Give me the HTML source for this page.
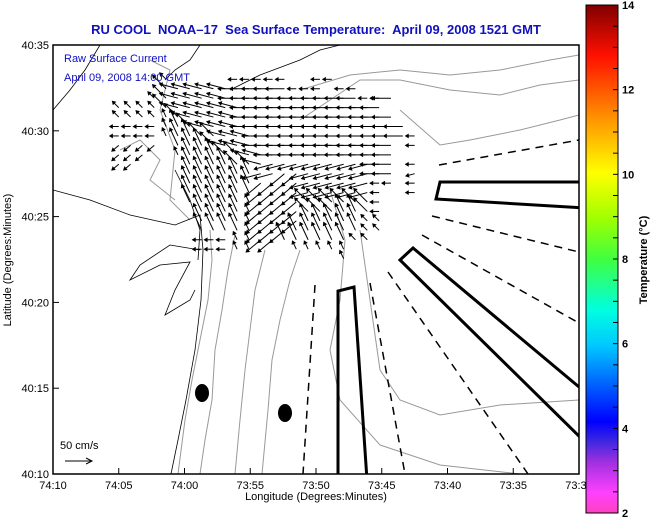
<!DOCTYPE html>
<html><head><meta charset="utf-8"><style>
html,body{margin:0;padding:0;background:#fff;width:651px;height:519px;overflow:hidden}
svg{display:block;font-family:"Liberation Sans",sans-serif}
</style></head><body>
<svg id="chart" width="651" height="519" viewBox="0 0 651 519">
<defs>
<linearGradient id="cb" x1="0" y1="1" x2="0" y2="0">
<stop offset="0" stop-color="#ff40c0"/><stop offset="0.04" stop-color="#ff40ff"/>
<stop offset="0.1" stop-color="#a030e0"/><stop offset="0.14" stop-color="#4028e0"/>
<stop offset="0.18" stop-color="#0000ff"/><stop offset="0.33" stop-color="#00c8ff"/>
<stop offset="0.4" stop-color="#00ffe0"/><stop offset="0.5" stop-color="#40ff40"/>
<stop offset="0.58" stop-color="#a0ff00"/><stop offset="0.67" stop-color="#ffff00"/>
<stop offset="0.78" stop-color="#ff9000"/><stop offset="0.9" stop-color="#ff1000"/>
<stop offset="1" stop-color="#800000"/>
</linearGradient>
<clipPath id="pc"><rect x="53" y="45" width="526" height="429"/></clipPath>
</defs>
<text x="316" y="34" text-anchor="middle" font-size="13" font-weight="bold" fill="#1010c0" xml:space="preserve" style="white-space:pre">RU COOL  NOAA–17  Sea Surface Temperature:  April 09, 2008 1521 GMT</text>
<g id="map" clip-path="url(#pc)">
<g fill="none" stroke="#999" stroke-width="1">
<polyline points="210,230 212,260 208,300 200,340 192,380 185,420 178,474"/>
<polyline points="235,235 228,270 222,310 215,350 212,400 205,440 200,474"/>
<polyline points="265,250 255,290 250,330 245,370 240,420 235,474"/>
<polyline points="300,250 290,280 280,320 272,360 268,410 262,474"/>
<polyline points="330,190 345,240 340,300 330,350 340,400 380,445 440,465 520,474"/>
<polyline points="360,230 370,300 380,370 400,400 440,415 500,405 579,400"/>
<polyline points="300,90 350,75 400,70 450,75 500,70 550,60 579,55"/>
<polyline points="300,120 360,80 400,80 450,90 500,95 540,85 579,80"/>
<polyline points="400,110 440,145 470,140 520,130 560,120 579,115"/>
<polyline points="150,60 170,70 160,110 175,150 170,200 190,220"/>
<polyline points="120,150 140,140 160,160 150,180 175,200"/>
</g>
<g fill="none" stroke="#000" stroke-width="0.8">
<polyline points="53,110 70,90 85,70 100,45"/>
<polyline points="53,190 90,200 130,215 175,225 200,215 203,250 201,300 195,350 186,400 178,440 171,474"/>
<polyline points="200,250 170,245 140,265 130,280 160,265 190,262 175,290 165,315 190,300 195,290"/>
<polyline points="200,45 190,60 175,70 165,80"/>
<polyline points="230,90 260,75 300,60 320,50 340,45"/>
<polyline points="175,170 190,200 200,230 198,260"/>
</g>
<g stroke="#000" stroke-width="3" fill="none">
<polyline points="338,480 338,291 354,287 367,480"/>
<polyline points="585,182 440,182 436,199 585,208"/>
<polyline points="585,392 413,248 400,260 585,442"/>
</g>
<g stroke="#000" stroke-width="1.5" stroke-dasharray="8,6" fill="none">
<line x1="439" y1="165" x2="579" y2="140"/><line x1="432" y1="216" x2="579" y2="252"/>
<line x1="422" y1="235" x2="579" y2="323"/><line x1="388" y1="272" x2="528" y2="474"/>
<line x1="370" y1="283" x2="405" y2="474"/><line x1="315" y1="285" x2="303" y2="474"/>
</g>
<ellipse cx="202" cy="393" rx="7" ry="9" fill="#000"/>
<ellipse cx="285" cy="413" rx="7" ry="9" fill="#000"/>
<g id="arrows" stroke="#000" stroke-width="1" fill="#000"></g>
</g>
<rect x="53" y="45" width="526" height="429" fill="none" stroke="#000" stroke-width="1.5"/>
<text x="64" y="62" font-size="11" fill="#1010c0">Raw Surface Current</text>
<text x="64" y="81" font-size="11" fill="#1010c0">April 09, 2008 14:00 GMT</text>
<text x="60" y="449" font-size="11" fill="#000">50 cm/s</text>
<g><line x1="65" y1="461" x2="92" y2="461" stroke="#000"/><polyline points="86,458 92,461 86,464" fill="none" stroke="#000"/></g>
<g id="xaxis"></g>
<g id="yaxis"></g>
<text x="316" y="500" text-anchor="middle" font-size="11">Longitude (Degrees:Minutes)</text>
<text transform="translate(11,260) rotate(-90)" text-anchor="middle" font-size="11">Latitude (Degrees:Minutes)</text>
<rect x="586" y="5" width="32" height="508" fill="url(#cb)" stroke="#000"/>
<g id="cbticks"></g>
<text transform="translate(647,260) rotate(-90)" text-anchor="middle" font-size="11" font-weight="bold">Temperature (°C)</text>
</svg>
<script>
const xTicks=[0,5,10,15,20,25,30,35,40];
const xTickLabels=["74:10","74:05","74:00","73:55","73:50","73:45","73:40","73:35","73:30"];
const yTicks=[0,5,10,15,20,25];
const yTickLabels=["40:10","40:15","40:20","40:25","40:30","40:35"];
const cbValues=[2,4,6,8,10,12,14];
const colStart=5, colStep=0.9, rowStart=23, rowStep=0.55;
const arrowRows=[
"....n.....wwwww..ww.......",
"....NVVVVVWWWWWwww.ww.....",
"...nNVVVVVWWWWWWWWWWWwwW..",
"nnnnNVVVVVVWWWWWWWWWWWW...",
"nnnnmNVVVVVWWWWWWWWWWWWW..",
"wwwwmMNVVVVWWWWWWWWWWWWWW.",
"wwwwmMMNNVVVWWWWWWWWWWWWWw",
"dddd.MMMNVVVWWWWWWWWWWWW.w",
"ddd..mMMMNNVVWWWWWWWWWWW..",
"dd....MMMMNNVSSSSSSSSSWW.w",
"......MMMMMMSSDDSSSSSSWW.s",
"......MMMMMMDDDDSSSSSSww.w",
"......MMMMMMDDDDSSSSSSw..w",
"......MMMMMmDDDDNNNNNNw...",
".......MMMMmDDDDNNNMMNw...",
".......MMMMmDDDDMMMMMnn...",
".......MMMMmDDDMMMMMMnn...",
".......wwwmmDDMMMMMMnn....",
".......wwwmm...mmmmm......",
"...................m......"];
const codeAngle={w:180,v:165,n:135,m:115,s:195,d:220};
const codeSpeed={upper:34,lower:16};
const X=m=>53+m*526/40, Y=n=>474-n*429/25, pxPerCms=28/50;
const NS="http://www.w3.org/2000/svg";
function mk(t,a,p){const e=document.createElementNS(NS,t);for(const k in a)e.setAttribute(k,a[k]);p.appendChild(e);return e;}
const xa=document.getElementById('xaxis');
xTicks.forEach((v,i)=>{
 const l=mk('line',{x1:X(v),x2:X(v),y1:474,y2:468,stroke:'#000'},xa);
 
 
 const t=mk('text',{x:X(v),y:489,'text-anchor':'middle','font-size':11},xa);t.textContent=xTickLabels[i];
 
 
});
const ya=document.getElementById('yaxis');
yTicks.forEach((v,i)=>{
 const l=mk('line',{x1:53,x2:59,y1:Y(v),y2:Y(v),stroke:'#000'},ya);
 
 
 const t=mk('text',{x:49,y:Y(v)+4,'text-anchor':'end','font-size':11},ya);t.textContent=yTickLabels[i];
 
 
});
const cb=document.getElementById('cbticks');
const CY=v=>513-(v-2)*508/12;
for(let v=2;v<=14;v+=0.5){const l=mk('line',{x1:613,x2:618,y1:CY(v),y2:CY(v),stroke:'#000'},cb);
 
 }
cbValues.forEach(v=>{const t=mk('text',{x:622,y:Math.min(CY(v)+4,517),'font-size':11,'font-weight':'bold'},cb);t.textContent=v;
 
 });
const ag=document.getElementById('arrows');
arrowRows.forEach((row,r)=>{
 for(let c=0;c<row.length;c++){
  const ch=row[c]; if(ch==='.')continue;
  const lc=ch.toLowerCase(), ang=codeAngle[lc]*Math.PI/180;
  const sp=(ch===lc?codeSpeed.lower:codeSpeed.upper)*pxPerCms;
  const x0=X(colStart+c*colStep), y0=Y(rowStart-r*rowStep);
  const x1=x0+sp*Math.cos(ang), y1=y0-sp*Math.sin(ang);
  const g=mk('g',{},ag);
  
  
  mk('line',{x1:x0,y1:y0,x2:x1,y2:y1},g);
  const h=3,a1=ang+2.6,a2=ang-2.6;
  mk('polygon',{points:`${x1},${y1} ${x1+h*Math.cos(a1)},${y1-h*Math.sin(a1)} ${x1+h*Math.cos(a2)},${y1-h*Math.sin(a2)}`},g);
 }
});
</script>
</body></html>
